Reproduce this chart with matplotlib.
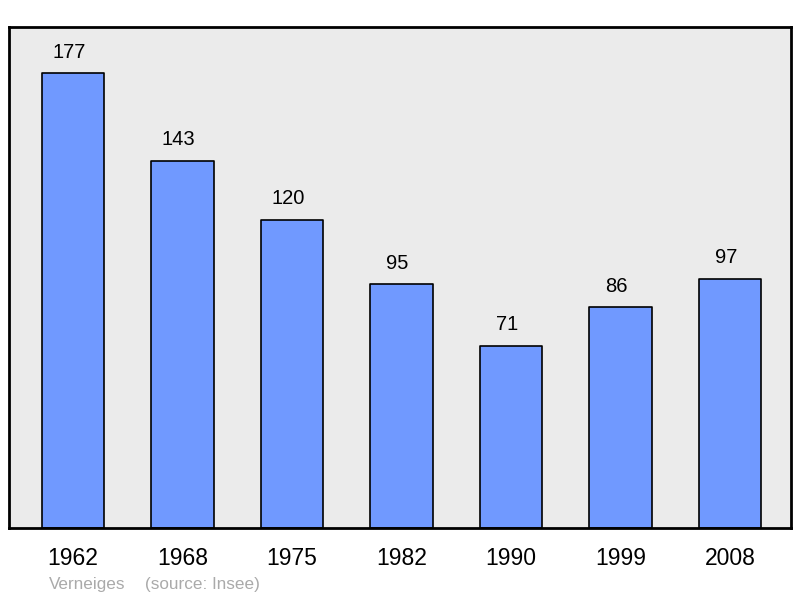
import matplotlib
matplotlib.use("Agg")
import matplotlib.pyplot as plt

years = ["1962", "1968", "1975", "1982", "1990", "1999", "2008"]
population = [177, 143, 120, 95, 71, 86, 97]

plt.rcParams['font.family'] = ['Liberation Sans', 'DejaVu Sans']

fig = plt.figure(figsize=(8, 5.98), dpi=100)
ax = fig.add_axes([9/800, 70/598, 782/800, 501/598])
ax.set_facecolor('#ebebeb')

x = list(range(len(years)))
bars = ax.bar(x, population, width=0.57, color='#7099ff', edgecolor='black',
              linewidth=1.2, zorder=2)
for b in bars:
    b.set_joinstyle('round')

for xi, v in zip(x, population):
    ax.annotate(str(v), (xi, v), xytext=(-3, 15), textcoords='offset points',
                ha='center', va='center', fontsize=14.5, color='black')

ax.set_xlim(-0.585, 6.555)
ax.set_ylim(0, 195)
ax.set_xticks(x)
ax.set_xticklabels(years, fontsize=16.5)
ax.tick_params(axis='x', length=0, pad=14)
ax.set_yticks([])
for s in ax.spines.values():
    s.set_linewidth(2)
    s.set_color('black')
    s.set_joinstyle('round')

fig.text(49/800, 1 - 584/598, "Verneiges", color='#aaaaaa', fontsize=12.3, va='center', ha='left')
fig.text(145/800, 1 - 584/598, "(source: Insee)", color='#aaaaaa', fontsize=12.3, va='center', ha='left')

fig.savefig("out.png", dpi=100)
